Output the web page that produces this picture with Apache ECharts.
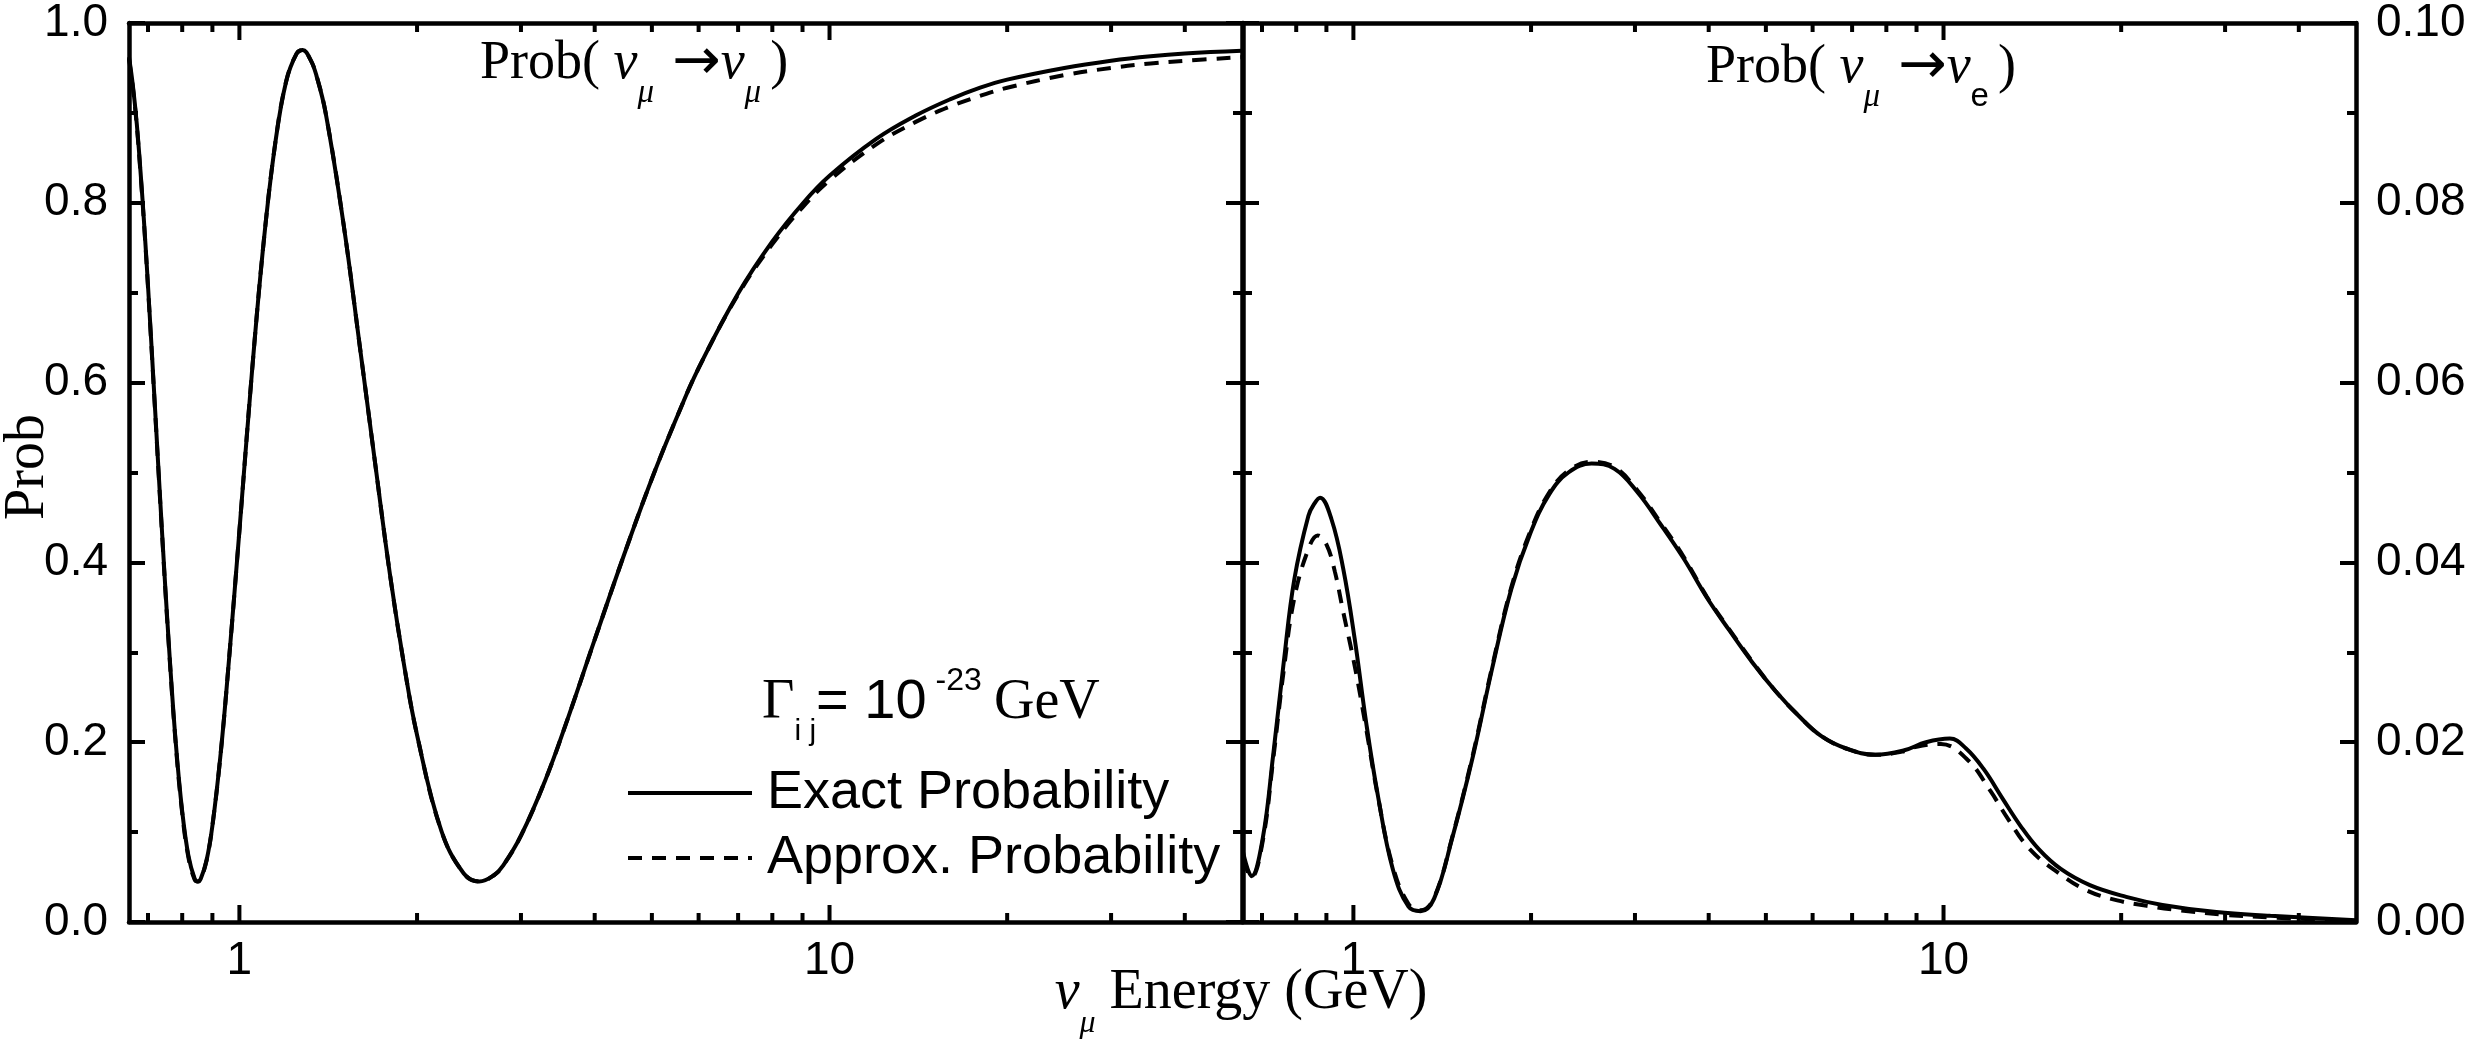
<!DOCTYPE html>
<html>
<head>
<meta charset="utf-8">
<style>
  html, body { margin: 0; padding: 0; background: #fff; }
  #chart { width: 2474px; height: 1050px; }
</style>
</head>
<body>
<div id="chart"></div>
<script src="https://cdn.jsdelivr.net/npm/echarts@6.0.0/dist/echarts.min.js"></script>
<script>
// nu_mu -> nu_mu survival, energies (GeV) and probabilities
var mmEnergy = [0.65, 0.66, 0.67, 0.68, 0.69, 0.70, 0.72, 0.74, 0.76, 0.78, 0.80, 0.82, 0.84, 0.85, 0.86, 0.88,
  0.90, 0.93, 0.96, 1.00, 1.05, 1.10, 1.15, 1.20, 1.25, 1.28, 1.32, 1.35, 1.40, 1.50, 1.60, 1.70, 1.80,
  1.90, 2.00, 2.20, 2.40, 2.55, 2.70, 2.80, 3.00, 3.30, 3.60, 4.00, 4.50, 5.0, 5.5, 6, 7, 8, 9, 10,
  12, 14, 16, 18, 20, 25, 30, 35, 40, 50];
var mmExact = [0.962, 0.930, 0.888, 0.834, 0.774, 0.708, 0.568, 0.430, 0.305, 0.200, 0.123, 0.073, 0.048, 0.045, 0.048, 0.069,
  0.107, 0.189, 0.291, 0.435, 0.611, 0.758, 0.866, 0.935, 0.966, 0.970, 0.959, 0.942, 0.900, 0.778, 0.640, 0.508, 0.386,
  0.287, 0.208, 0.101, 0.054, 0.045, 0.052, 0.063, 0.096, 0.158, 0.226, 0.314, 0.411, 0.493, 0.560, 0.616, 0.699, 0.757, 0.799, 0.830,
  0.871, 0.897, 0.915, 0.928, 0.937, 0.950, 0.958, 0.963, 0.966, 0.969];
var mmApprox = [0.960, 0.928, 0.886, 0.832, 0.772, 0.706, 0.566, 0.428, 0.303, 0.198, 0.121, 0.071, 0.047, 0.045, 0.048, 0.069,
  0.107, 0.189, 0.291, 0.435, 0.611, 0.758, 0.866, 0.935, 0.966, 0.970, 0.959, 0.942, 0.900, 0.778, 0.640, 0.508, 0.386,
  0.287, 0.208, 0.101, 0.054, 0.045, 0.052, 0.063, 0.096, 0.158, 0.226, 0.314, 0.411, 0.493, 0.560, 0.616, 0.698, 0.754, 0.795, 0.825,
  0.865, 0.890, 0.907, 0.919, 0.928, 0.942, 0.950, 0.955, 0.958, 0.962];

// nu_mu -> nu_e appearance
var meEnergy = [0.65, 0.672, 0.702, 0.731, 0.762, 0.794, 0.839, 0.86, 0.878, 0.918, 0.961, 1.005, 1.051, 1.10, 1.166,
  1.24, 1.30, 1.37, 1.47, 1.595, 1.717, 1.851, 1.996, 2.148, 2.314, 2.533, 2.77, 3.03, 3.31, 3.63, 3.97,
  4.34, 4.74, 5.19, 5.67, 6.20, 6.84, 7.66, 8.58, 9.34, 10.25, 10.92, 11.7, 12.6, 13.5, 14.5, 15.8,
  17.7, 20.4, 23.5, 29, 35.8, 50];
var meExact = [0.0078, 0.0051, 0.0093, 0.0185, 0.0289, 0.0381, 0.0452, 0.0466, 0.0472, 0.0448, 0.0393, 0.0315, 0.0222, 0.0141, 0.0059,
  0.0017, 0.0012, 0.0026, 0.0093, 0.0185, 0.0281, 0.0370, 0.0433, 0.0476, 0.0500, 0.0510, 0.0504, 0.0478, 0.0443, 0.0404, 0.0361,
  0.0324, 0.0289, 0.0257, 0.0230, 0.0207, 0.0193, 0.0186, 0.0191, 0.0200, 0.0204, 0.0193, 0.0170, 0.0137, 0.0107, 0.0081, 0.0059,
  0.0041, 0.0028, 0.0019, 0.0011, 0.0007, 0.0002];
var meApproxEnergy = [0.65, 0.672, 0.702, 0.731, 0.762, 0.794, 0.839, 0.87, 0.90, 0.93, 0.961, 1.005, 1.051, 1.10, 1.166,
  1.24, 1.30, 1.37, 1.47, 1.595, 1.717, 1.851, 1.996, 2.148, 2.314, 2.533, 2.77, 3.03, 3.31, 3.63, 3.97,
  4.34, 4.74, 5.19, 5.67, 6.20, 6.84, 7.66, 8.58, 9.0, 9.9, 11.0, 12.0, 12.85, 14.0, 15.7, 17.5,
  19.7, 22.1, 25.2, 30, 36, 50];
var meApprox = [0.0070, 0.0050, 0.0090, 0.0180, 0.0280, 0.0360, 0.0415, 0.0430, 0.0420, 0.0390, 0.0345, 0.0285, 0.0215, 0.0140, 0.0062,
  0.0020, 0.0013, 0.0027, 0.0094, 0.0187, 0.0283, 0.0372, 0.0435, 0.0478, 0.0502, 0.0512, 0.0506, 0.0480, 0.0445, 0.0406, 0.0362,
  0.0325, 0.0290, 0.0257, 0.0230, 0.0207, 0.0193, 0.0186, 0.0190, 0.0195, 0.0198, 0.0180, 0.0146, 0.0115, 0.0081, 0.0054, 0.0035,
  0.0024, 0.0018, 0.0013, 0.0008, 0.0005, 0.0001];

// axis settings
var energyMin = 0.65, energyMax = 50;
var majorEnergyTicks = [1, 10];
var minorEnergyTicks = [0.7, 0.8, 0.9, 2, 3, 4, 5, 6, 7, 8, 9, 20, 30, 40];
var leftYMax = 1.0, leftYStep = 0.2;
var rightYMax = 0.1, rightYStep = 0.02;

function pairs(xs, ys) {
  return xs.map(function (x, i) { return [x, ys[i]]; });
}

var FONT_SANS = 'Liberation Sans';
var FONT_SERIF = 'Liberation Serif';
var AXIS_W = 4.5, TICK_W = 4;

function xAxisCfg(grid, pos, labels) {
  return {
    type: 'log', logBase: 10, gridIndex: grid, position: pos,
    min: energyMin, max: energyMax,
    axisLine: { show: true, onZero: false, lineStyle: { color: '#000', width: AXIS_W } },
    axisTick: { show: false },
    axisLabel: {
      show: labels, color: '#000', fontFamily: FONT_SANS, fontSize: 46, margin: 16,
      showMinLabel: false, showMaxLabel: false,
      formatter: function (v) { return String(Math.round(v)); }
    },
    splitLine: { show: false }
  };
}

function yAxisCfg(grid, pos, max, step, labels, digits, margin) {
  return {
    type: 'value', gridIndex: grid, position: pos,
    min: 0, max: max, interval: step,
    axisLine: { show: true, onZero: false, lineStyle: { color: '#000', width: AXIS_W } },
    axisTick: { show: true, inside: true, length: 16, lineStyle: { color: '#000', width: TICK_W } },
    minorTick: { show: true, splitNumber: 2, length: 9, lineStyle: { color: '#000', width: TICK_W } },
    axisLabel: {
      show: labels, color: '#000', fontFamily: FONT_SANS, fontSize: 46, margin: margin,
      formatter: function (v) { return v.toFixed(digits); }
    },
    splitLine: { show: false },
    minorSplitLine: { show: false }
  };
}

// tick marks of the log axes (bottom and top edges), placed through the axis scale
function energyTickSeries(xi, yi, yMax) {
  var data = majorEnergyTicks.map(function (v) { return [v, 0, 17]; })
    .concat(minorEnergyTicks.map(function (v) { return [v, 0, 9]; }));
  return {
    type: 'custom', coordinateSystem: 'cartesian2d', xAxisIndex: xi, yAxisIndex: yi,
    silent: true, clip: false, z: 10,
    encode: { x: 0, y: 1 },
    data: data,
    renderItem: function (params, api) {
      var len = api.value(2);
      var b = api.coord([api.value(0), 0]);
      var t = api.coord([api.value(0), yMax]);
      return {
        type: 'group',
        children: [
          { type: 'line', shape: { x1: b[0], y1: b[1], x2: b[0], y2: b[1] - len },
            style: { stroke: '#000', lineWidth: TICK_W } },
          { type: 'line', shape: { x1: t[0], y1: t[1], x2: t[0], y2: t[1] + len },
            style: { stroke: '#000', lineWidth: TICK_W } }
        ]
      };
    }
  };
}

function lineSeries(name, xi, yi, data, dashed) {
  return {
    name: name, type: 'line', xAxisIndex: xi, yAxisIndex: yi,
    data: data, smooth: 0.4, symbol: 'none', showSymbol: false,
    lineStyle: { color: '#000', width: 4, type: dashed ? [14, 10] : 'solid' },
    itemStyle: { color: '#000' }
  };
}

var sub = { fontFamily: FONT_SERIF, fontStyle: 'italic', fontSize: 33, fill: '#000', padding: [58, 0, 0, 0] };
var serif = { fontFamily: FONT_SERIF, fontSize: 54, fill: '#000' };
var serifIt = { fontFamily: FONT_SERIF, fontStyle: 'italic', fontSize: 54, fill: '#000' };
var arrow = { fontFamily: 'DejaVu Sans', fontSize: 58, fill: '#000' };
var gap = { fontFamily: FONT_SERIF, fontSize: 36, fill: '#000' };

function textEl(x, y, text, rich, align, rotation) {
  return {
    type: 'text', x: x, y: y, rotation: rotation || 0, silent: true,
    style: {
      text: text, rich: rich, fill: '#000',
      align: align, textAlign: align, verticalAlign: 'middle', textVerticalAlign: 'middle',
      fontFamily: FONT_SERIF, fontSize: 56
    }
  };
}

var chart = echarts.init(document.getElementById('chart'));
chart.setOption({
  animation: false,
  backgroundColor: '#fff',
  grid: [
    { left: 129, top: 23, width: 1113, height: 899, containLabel: false },
    { left: 1243, top: 23, width: 1113, height: 899, containLabel: false }
  ],
  xAxis: [
    xAxisCfg(0, 'bottom', true),
    xAxisCfg(0, 'top', false),
    xAxisCfg(1, 'bottom', true),
    xAxisCfg(1, 'top', false)
  ],
  yAxis: [
    yAxisCfg(0, 'left', leftYMax, leftYStep, true, 1, 21),
    yAxisCfg(0, 'right', leftYMax, leftYStep, false, 1, 20),
    yAxisCfg(1, 'left', rightYMax, rightYStep, false, 2, 20),
    yAxisCfg(1, 'right', rightYMax, rightYStep, true, 2, 20)
  ],
  legend: {
    orient: 'vertical', left: 621, top: 756,
    itemWidth: 124, itemHeight: 20, itemGap: 1,
    data: ['Exact Probability', 'Approx. Probability'],
    itemStyle: { opacity: 0 },
    lineStyle: { width: 4 },
    textStyle: { color: '#000', fontFamily: FONT_SANS, fontSize: 54, lineHeight: 64, padding: [0, 0, 0, 10] }
  },
  series: [
    lineSeries('Exact Probability', 0, 0, pairs(mmEnergy, mmExact), false),
    lineSeries('Approx. Probability', 0, 0, pairs(mmEnergy, mmApprox), true),
    lineSeries('Exact Probability', 2, 3, pairs(meEnergy, meExact), false),
    lineSeries('Approx. Probability', 2, 3, pairs(meApproxEnergy, meApprox), true),
    energyTickSeries(0, 0, leftYMax),
    energyTickSeries(2, 3, rightYMax)
  ],
  graphic: [
    // y axis name
    textEl(28, 467, 'Prob', null, 'center', Math.PI / 2),
    // panel titles
    textEl(480, 64, '{m|Prob( }{n|ν}{s|μ}{g|  }{ar|→}{n|ν}{s|μ}{g| }{m|)}',
      { m: serif, n: serifIt, s: sub, ar: arrow, g: gap }, 'left'),
    textEl(1706, 68, '{m|Prob( }{n|ν}{s|μ}{g|  }{ar|→}{n|ν}{e|e}{g| }{m|)}',
      { m: serif, n: serifIt, s: sub, ar: arrow, g: gap,
        e: { fontFamily: FONT_SANS, fontSize: 33, fill: '#000', padding: [58, 0, 0, 0] } }, 'left'),
    // x axis name
    textEl(1241, 993, '{n|ν}{s|μ}{m| Energy (GeV)}',
      { m: { fontFamily: FONT_SERIF, fontSize: 56, fill: '#000' },
        n: { fontFamily: FONT_SERIF, fontStyle: 'italic', fontSize: 56, fill: '#000' },
        s: { fontFamily: FONT_SERIF, fontStyle: 'italic', fontSize: 32, fill: '#000', padding: [62, 0, 0, 0] } }, 'center'),
    // decay width note above the legend
    textEl(762, 703, '{g|Γ}{i|i j}{a|= 10}{p| -23}{sp| }{g|GeV}',
      { g: { fontFamily: FONT_SERIF, fontSize: 56, fill: '#000' },
        i: { fontFamily: FONT_SANS, fontSize: 30, fill: '#000', padding: [57, 0, 0, 0] },
        a: { fontFamily: FONT_SANS, fontSize: 56, fill: '#000' },
        sp: { fontFamily: FONT_SANS, fontSize: 44, fill: '#000' },
        p: { fontFamily: FONT_SANS, fontSize: 32, fill: '#000', padding: [0, 0, 44, 0] } }, 'left')
  ]
});
</script>
</body>
</html>
